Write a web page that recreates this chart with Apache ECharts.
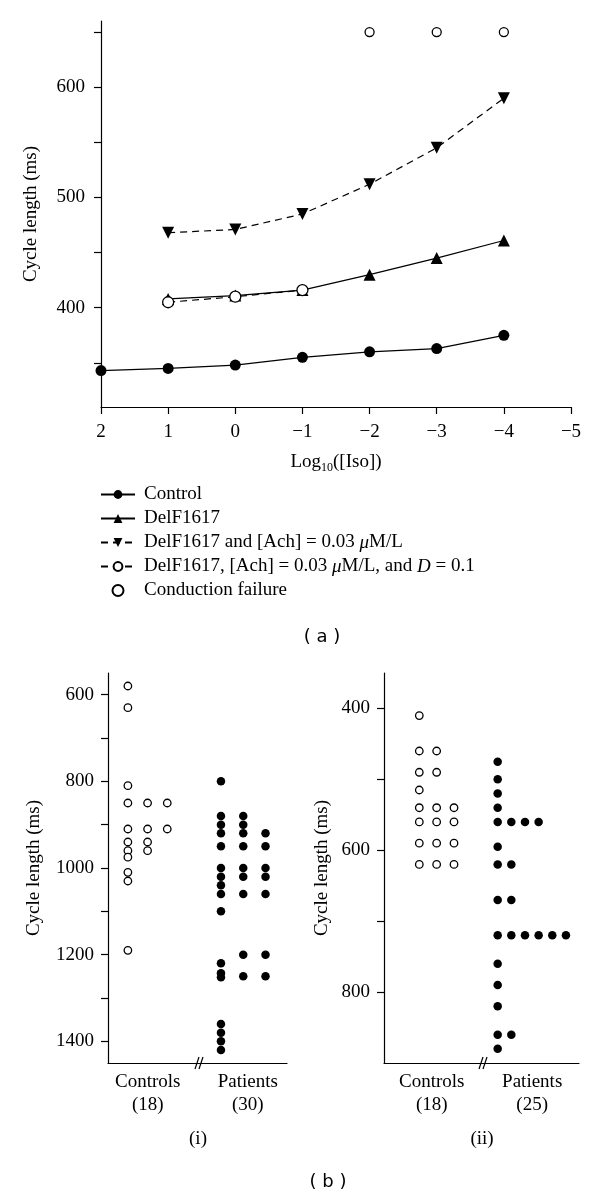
<!DOCTYPE html>
<html>
<head>
<meta charset="utf-8">
<script src="https://cdn.jsdelivr.net/npm/echarts@6/dist/echarts.min.js"></script>
<style>html,body{margin:0;padding:0;background:#fff}#c{width:600px;height:1200px}</style>
</head>
<body>
<div id="c"></div>
<script>
// ---------- Panel (a) data ----------
const isoLog = [2, 1, 0, -1, -2, -3, -4];
const controlCL = [343, 345, 348, 355, 360, 363, 375];
const delfCL = [null, 408, 411, 416, 430, 445, 461];
const delfAchCL = [null, 468, 471, 485, 512, 545, 590];
const delfAchDCL = [null, 405, 410, 416, null, null, null];
const failureIso = [-2, -3, -4];
const failureCL = [650, 650, 650];
const seriesNames = ['Control', 'DelF1617', 'DelF1617 and [Ach] = 0.03 μM/L', 'DelF1617, [Ach] = 0.03 μM/L, and D = 0.1', 'Conduction failure'];
const yTicksA = [350, 400, 450, 500, 550, 600, 650];
const yLabelsA = [400, 500, 600];
const xTicksA = [2, 1, 0, -1, -2, -3, -4, -5];

// ---------- Panel (b) data ----------
const groups = ['Controls', 'Patients'];
const countsI = [18, 30];
const countsII = [18, 25];
// values stacked in columns as drawn
const iControls = [[580, 630, 810, 850, 910, 940, 960, 975, 1010, 1030, 1190], [850, 910, 940, 960], [850, 910]];
const iPatients = [[800, 880, 900, 920, 950, 1000, 1020, 1040, 1060, 1100, 1220, 1243, 1252, 1360, 1380, 1400, 1420], [880, 900, 920, 950, 1000, 1020, 1060, 1200, 1250], [920, 950, 1000, 1020, 1060, 1200, 1250]];
const iiControls = [[410, 460, 490, 515, 540, 560, 590, 620], [460, 490, 540, 560, 590, 620], [540, 560, 590, 620]];
const iiPatients = [[475, 500, 520, 540, 560, 595, 620, 670, 720, 760, 790, 820, 860, 880], [560, 620, 670, 720, 860], [560, 720], [560, 720], [720], [720]];
const yTicksI = [600, 700, 800, 900, 1000, 1100, 1200, 1300, 1400];
const yLabelsI = [600, 800, 1000, 1200, 1400];
const yTicksII = [400, 500, 600, 700, 800];
const yLabelsII = [400, 600, 800];

// ---------- layout ----------
const SERIF = '"Liberation Serif", "Times New Roman", serif';
const SANS = '"DejaVu Sans", sans-serif';
const FS = 19;
const layI = { base: [1, 5.68], step: [0.99, 1.12], label: [2, 7.03], max: 9 };
const layII = { base: [1.81, 5.83], step: [0.89, 0.70], label: [2.45, 7.6], max: 10 };

function pairs(xs, ys) {
  const out = [];
  xs.forEach((x, i) => { if (ys[i] != null) out.push([x, ys[i]]); });
  return out;
}
function columns(cols, g, lay) {
  const out = [];
  cols.forEach((col, k) => col.forEach(v => out.push([lay.base[g] + k * lay.step[g], v])));
  return out;
}
const minus = v => (v < 0 ? '\u2212' + Math.abs(v) : String(v));

const axisLine = { show: true, onZero: false, lineStyle: { color: '#000', width: 1.2 } };
const tickStyle = { lineStyle: { color: '#000', width: 1.2 } };
const labelStyle = { color: '#000', fontFamily: SERIF, fontSize: FS };
const openItem = { color: '#fff', borderColor: '#000', borderWidth: 1.3, opacity: 1 };
const fillItem = { color: '#000', opacity: 1 };

function bottomX(idx, lay, counts) {
  return {
    type: 'value', gridIndex: idx, min: 0, max: lay.max,
    axisLine: axisLine, axisTick: { show: false }, splitLine: { show: false },
    axisLabel: {
      customValues: lay.label, margin: 8, color: '#000', fontFamily: SERIF, fontSize: FS, lineHeight: 23,
      formatter: v => { const g = lay.label.findIndex(p => Math.abs(p - v) < 1e-6); return g < 0 ? '' : groups[g] + '\n(' + counts[g] + ')'; }
    }
  };
}
function bottomY(idx, min, max, ticks, labels, gap) {
  return {
    type: 'value', gridIndex: idx, inverse: true, min: min, max: max,
    axisLine: axisLine, splitLine: { show: false },
    axisTick: Object.assign({ customValues: ticks, length: 7 }, tickStyle),
    axisLabel: Object.assign({ customValues: labels, margin: 14, formatter: v => String(v) }, labelStyle),
    name: 'Cycle length (ms)', nameLocation: 'middle', nameRotate: 90, nameGap: gap,
    nameTextStyle: { color: '#000', fontFamily: SERIF, fontSize: FS }
  };
}
function dotSeries(data, xi, filled, size) {
  return {
    type: 'scatter', xAxisIndex: xi, yAxisIndex: xi, data: data,
    symbol: 'circle', symbolSize: size, silent: true,
    itemStyle: filled ? fillItem : openItem
  };
}

const legendRich = {
  n: { fontFamily: SERIF, fontSize: FS, color: '#000' },
  i: { fontFamily: SERIF, fontSize: FS, color: '#000', fontStyle: 'italic' }
};
function legendFmt(name) {
  return name.split(/(μ|D(?= =))/).filter(s => s !== '' && s !== undefined).map(s => (s === 'μ' || s === 'D') ? '{i|' + s + '}' : '{n|' + s + '}').join('');
}

const chart = echarts.init(document.getElementById('c'), null, { renderer: 'canvas' });
const option = {
  animation: false,
  backgroundColor: '#fff',
  grid: [
    { left: 101, top: 21, width: 470, height: 386, outerBoundsMode: 'none' },
    { left: 108, top: 673, width: 179, height: 390, outerBoundsMode: 'none' },
    { left: 384, top: 673, width: 195, height: 390, outerBoundsMode: 'none' }
  ],
  legend: {
    orient: 'vertical', left: 95, top: 480, itemWidth: 34, itemHeight: 11, itemGap: 5,
    data: seriesNames, formatter: legendFmt, selectedMode: false,
    textStyle: { rich: legendRich, color: '#000', fontFamily: SERIF, fontSize: FS, padding: [0, 0, 0, 4] }
  },
  xAxis: [
    {
      type: 'value', gridIndex: 0, inverse: true, min: -5, max: 2, interval: 1,
      axisLine: axisLine, splitLine: { show: false },
      axisTick: Object.assign({ length: 7 }, tickStyle),
      axisLabel: Object.assign({ margin: 16, formatter: minus, customValues: xTicksA }, labelStyle),
      name: '{n|Log}{s|10}{n|([Iso])}', nameLocation: 'middle', nameGap: 43,
      nameTextStyle: { rich: {
        n: { fontFamily: SERIF, fontSize: FS, color: '#000', lineHeight: 24, verticalAlign: 'middle' },
        s: { fontFamily: SERIF, fontSize: 12, color: '#000', lineHeight: 24, verticalAlign: 'bottom' }
      } }
    },
    bottomX(1, layI, countsI),
    bottomX(2, layII, countsII)
  ],
  yAxis: [
    {
      type: 'value', gridIndex: 0, min: 310, max: 660,
      axisLine: axisLine, splitLine: { show: false },
      axisTick: Object.assign({ customValues: yTicksA, length: 7 }, tickStyle),
      axisLabel: Object.assign({ customValues: yLabelsA, margin: 16 }, labelStyle),
      name: 'Cycle length (ms)', nameLocation: 'middle', nameRotate: 90, nameGap: 60,
      nameTextStyle: { color: '#000', fontFamily: SERIF, fontSize: FS }
    },
    bottomY(1, 550, 1450, yTicksI, yLabelsI, 64),
    bottomY(2, 350, 900, yTicksII, yLabelsII, 52)
  ],
  series: [
    { name: seriesNames[0], type: 'line', data: pairs(isoLog, controlCL), symbol: 'circle', symbolSize: 11,
      lineStyle: { color: '#000', width: 1.2 }, itemStyle: fillItem },
    { name: seriesNames[1], type: 'line', data: pairs(isoLog, delfCL), symbol: 'triangle', symbolSize: 12,
      lineStyle: { color: '#000', width: 1.2 }, itemStyle: fillItem },
    { name: seriesNames[2], type: 'line', data: pairs(isoLog, delfAchCL), symbol: 'triangle', symbolRotate: 180, symbolSize: 12,
      lineStyle: { color: '#000', width: 1.2, type: [7, 5] }, itemStyle: fillItem },
    { name: seriesNames[3], type: 'line', data: pairs(isoLog, delfAchDCL), symbol: 'circle', symbolSize: 11,
      lineStyle: { color: '#000', width: 1.2, type: [7, 5] }, itemStyle: openItem },
    { name: seriesNames[4], type: 'scatter', data: pairs(failureIso, failureCL), symbol: 'circle', symbolSize: 9,
      itemStyle: openItem },
    dotSeries(columns(iControls, 0, layI), 1, false, 7.5),
    dotSeries(columns(iPatients, 1, layI), 1, true, 8.5),
    dotSeries(columns(iiControls, 0, layII), 2, false, 7.5),
    dotSeries(columns(iiPatients, 1, layII), 2, true, 8.5)
  ],
  graphic: [
    { type: 'text', x: 322, y: 637, style: { text: '( a )', font: '18px ' + SANS, fill: '#000', align: 'center', verticalAlign: 'middle' } },
    { type: 'text', x: 328, y: 1182, style: { text: '( b )', font: '18px ' + SANS, fill: '#000', align: 'center', verticalAlign: 'middle' } },
    { type: 'text', x: 198, y: 1139, style: { text: '(i)', font: FS + 'px ' + SERIF, fill: '#000', align: 'center', verticalAlign: 'middle' } },
    { type: 'text', x: 482, y: 1139, style: { text: '(ii)', font: FS + 'px ' + SERIF, fill: '#000', align: 'center', verticalAlign: 'middle' } },
    { type: 'polyline', shape: { points: [[195, 1069], [199, 1057]] }, style: { stroke: '#000', lineWidth: 1.2 } },
    { type: 'polyline', shape: { points: [[199, 1069], [203, 1057]] }, style: { stroke: '#000', lineWidth: 1.2 } },
    { type: 'polyline', shape: { points: [[479, 1069], [483, 1057]] }, style: { stroke: '#000', lineWidth: 1.2 } },
    { type: 'polyline', shape: { points: [[483, 1069], [487, 1057]] }, style: { stroke: '#000', lineWidth: 1.2 } }
  ]
};
chart.setOption(option);
</script>
</body>
</html>
